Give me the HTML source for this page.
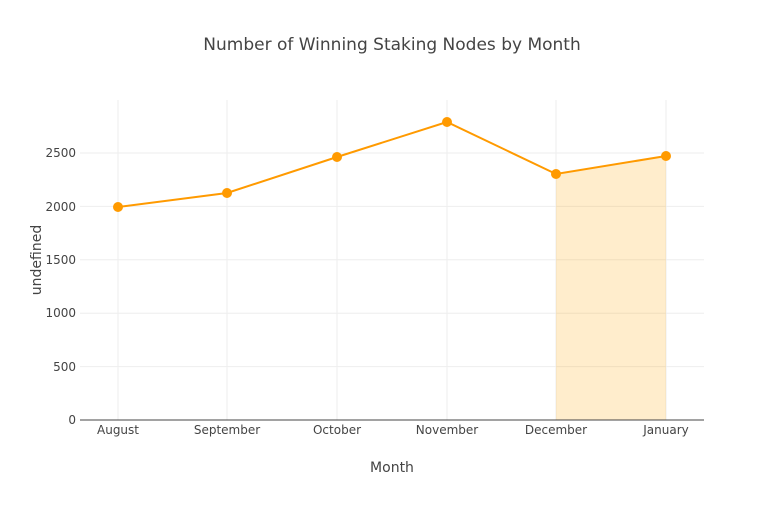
<!DOCTYPE html>
<html><head><meta charset="utf-8"><style>
body{margin:0;background:#fff;}
svg text{font-family:"DejaVu Sans","Liberation Sans",sans-serif;fill:#444;}
</style></head><body>
<svg width="784" height="500" xmlns="http://www.w3.org/2000/svg">
<rect width="784" height="500" fill="#fff"/>
<g stroke="#eee" stroke-width="1">
<line x1="80" x2="704" y1="366.6" y2="366.6"/>
<line x1="80" x2="704" y1="313.2" y2="313.2"/>
<line x1="80" x2="704" y1="259.8" y2="259.8"/>
<line x1="80" x2="704" y1="206.4" y2="206.4"/>
<line x1="80" x2="704" y1="153" y2="153"/>
<line x1="118" x2="118" y1="100" y2="420"/>
<line x1="227" x2="227" y1="100" y2="420"/>
<line x1="337" x2="337" y1="100" y2="420"/>
<line x1="447" x2="447" y1="100" y2="420"/>
<line x1="556" x2="556" y1="100" y2="420"/>
<line x1="666" x2="666" y1="100" y2="420"/>
</g>
<polygon points="556,174 666,156 666,420 556,420" fill="#ffa500" fill-opacity="0.2"/>
<line x1="80" x2="704" y1="420" y2="420" stroke="#444" stroke-width="1"/>
<polyline points="118,207 227,193 337,157 447,122 556,174 666,156" fill="none" stroke="#ff9a00" stroke-width="2"/>
<g fill="#ff9a00">
<circle cx="118" cy="207" r="5"/><circle cx="227" cy="193" r="5"/><circle cx="337" cy="157" r="5"/>
<circle cx="447" cy="122" r="5"/><circle cx="556" cy="174" r="5"/><circle cx="666" cy="156" r="5"/>
</g>
<g font-size="12" text-anchor="end">
<text x="76" y="424">0</text><text x="76" y="371">500</text><text x="76" y="317">1000</text>
<text x="76" y="264">1500</text><text x="76" y="211">2000</text><text x="76" y="157">2500</text>
</g>
<g font-size="12" text-anchor="middle">
<text x="118" y="434">August</text><text x="227" y="434">September</text><text x="337" y="434">October</text>
<text x="447" y="434">November</text><text x="556" y="434">December</text><text x="666" y="434">January</text>
</g>
<text x="392" y="472" font-size="14" text-anchor="middle">Month</text>
<text transform="translate(41,260) rotate(-90)" font-size="14" text-anchor="middle">undefined</text>
<text x="392" y="50" font-size="17" text-anchor="middle">Number of Winning Staking Nodes by Month</text>
</svg>
</body></html>
